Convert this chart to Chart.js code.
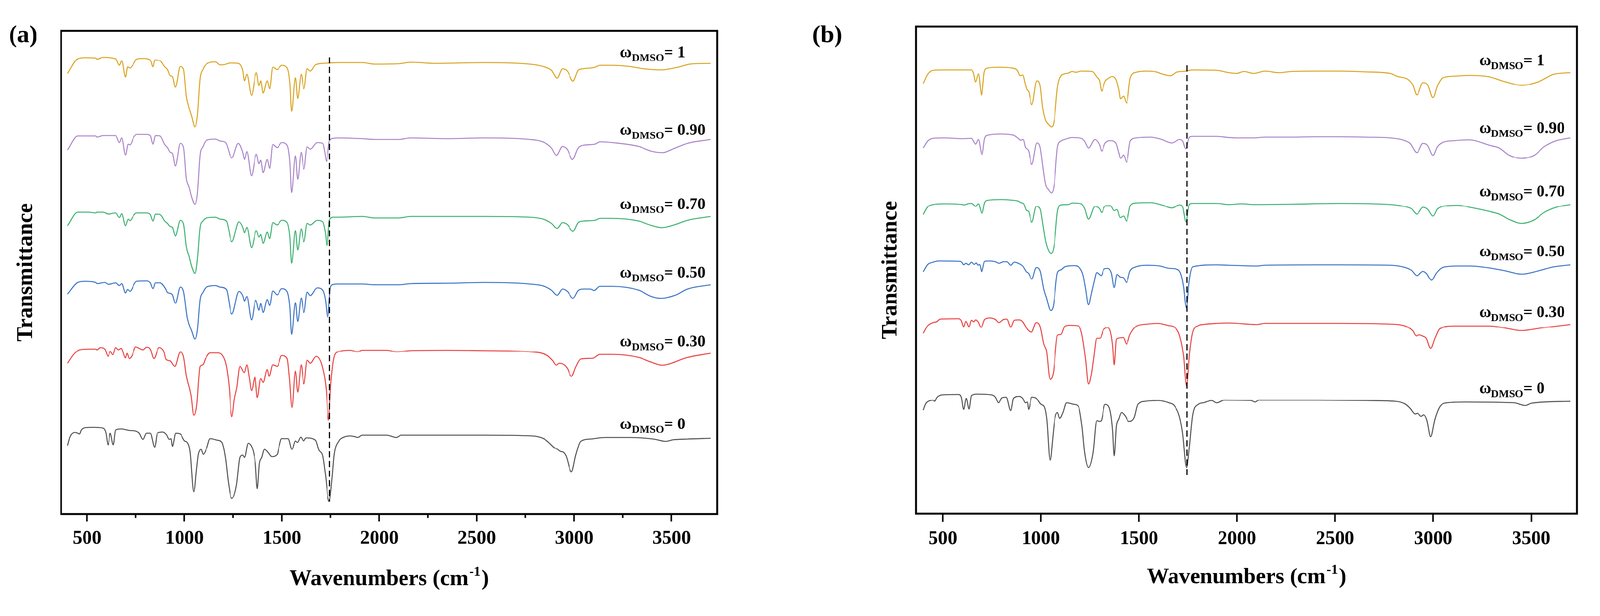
<!DOCTYPE html>
<html>
<head>
<meta charset="utf-8">
<script src="https://cdn.jsdelivr.net/npm/chart.js@4.4.1/dist/chart.umd.min.js"></script>
<style>
html, body { margin: 0; padding: 0; background: #fff; overflow: hidden; }
#wrap { position: relative; width: 4162px; height: 1577px; transform-origin: 0 0; }
canvas { position: absolute; top: 0; }
#chartA { left: 0; }
#chartB { left: 2080px; }
</style>
</head>
<body>
<div id="wrap">
<canvas id="chartA" width="2080" height="1577"></canvas>
<canvas id="chartB" width="2082" height="1577"></canvas>
</div>
<script>
// fit the 4162x1577 figure into whatever the viewport really is
var fit = Math.min(window.innerWidth / 4162, window.innerHeight / 1577);
document.getElementById('wrap').style.transform = 'scale(' + fit + ')';

// DMSO mass fractions, top trace first
var seriesNames = ['1', '0.90', '0.70', '0.50', '0.30', '0'];
var xTicks = [500, 1000, 1500, 2000, 2500, 3000, 3500]; // labelled ticks (cm-1)
var minorTicksA = [750, 1250, 1750, 2250, 2750, 3250]; // panel (a) only
var carbonylWn = 1745; // dashed marker, C=O band

// panel (a): [wavenumber, stacked transmittance (a.u.)]
var aW100 = [[400,1146],[452,1184],[489,1187],[545,1186],[551,1183],[582,1188],[647,1184],[666,1167],[678,1179],[697,1137],[708,1163],[720,1160],[739,1171],[754,1183],[787,1185],[824,1181],[838,1163],[847,1181],[875,1179],[899,1163],[913,1156],[927,1140],[938,1138],[953,1110],[978,1164],[996,1156],[1010,1087],[1020,1064],[1038,1033],[1054,1007],[1066,1037],[1080,1133],[1094,1156],[1113,1170],[1159,1176],[1183,1168],[1206,1169],[1234,1173],[1276,1172],[1299,1154],[1308,1127],[1320,1144],[1344,1089],[1369,1148],[1383,1114],[1392,1127],[1404,1095],[1425,1127],[1437,1106],[1453,1162],[1476,1156],[1499,1167],[1527,1160],[1541,1121],[1550,1047],[1569,1135],[1581,1081],[1599,1144],[1613,1106],[1630,1158],[1646,1152],[1672,1168],[1709,1172],[1744,1173],[1789,1174],[1913,1174],[1975,1170],[2100,1171],[2162,1175],[2287,1172],[2536,1174],[2772,1170],[2847,1163],[2884,1154],[2913,1134],[2940,1158],[2965,1152],[2994,1126],[3021,1154],[3046,1158],[3108,1162],[3133,1167],[3195,1167],[3283,1164],[3357,1158],[3444,1155],[3532,1162],[3594,1170],[3700,1172]];
var aW090 = [[400,947],[452,983],[508,983],[545,983],[551,980],[582,984],[647,984],[666,966],[678,978],[697,934],[711,962],[720,960],[740,980],[754,987],[806,987],[824,984],[838,962],[850,984],[875,983],[899,961],[913,953],[927,941],[938,938],[953,905],[978,964],[996,953],[1010,873],[1024,850],[1038,823],[1054,806],[1066,834],[1080,934],[1094,955],[1113,972],[1159,975],[1183,970],[1211,966],[1243,926],[1276,964],[1299,941],[1308,922],[1320,943],[1344,880],[1369,936],[1383,911],[1392,920],[1404,888],[1425,922],[1437,899],[1453,961],[1476,953],[1499,966],[1527,959],[1541,915],[1550,836],[1569,932],[1581,871],[1599,941],[1613,897],[1630,955],[1646,949],[1681,966],[1709,964],[1720,941],[1729,917],[1744,970],[1765,977],[1789,978],[1913,976],[1975,974],[2100,974],[2162,978],[2349,976],[2536,978],[2772,974],[2847,966],[2884,952],[2909,933],[2940,956],[2965,948],[2991,922],[3021,952],[3046,959],[3108,962],[3133,968],[3195,966],[3332,956],[3395,944],[3451,940],[3519,952],[3581,964],[3700,974]];
var aW070 = [[400,750],[452,785],[508,785],[545,783],[551,785],[582,785],[610,780],[647,783],[666,771],[678,781],[697,750],[711,767],[720,763],[740,777],[754,783],[806,783],[824,779],[838,762],[850,780],[875,779],[899,762],[913,756],[927,748],[938,746],[953,723],[978,764],[996,754],[1010,696],[1024,670],[1038,643],[1054,626],[1066,662],[1080,746],[1094,762],[1113,770],[1159,772],[1183,767],[1215,762],[1243,708],[1280,760],[1299,746],[1308,731],[1320,746],[1344,693],[1369,737],[1383,720],[1392,727],[1404,704],[1425,733],[1437,716],[1453,758],[1476,752],[1499,764],[1527,758],[1541,720],[1550,652],[1569,737],[1581,687],[1599,742],[1613,708],[1630,756],[1646,752],[1681,764],[1709,760],[1723,731],[1732,698],[1744,764],[1765,772],[1789,772],[1913,774],[1975,770],[2100,770],[2162,774],[2536,774],[2772,772],[2847,766],[2884,756],[2913,743],[2940,758],[2965,753],[2994,735],[3021,758],[3046,762],[3108,764],[3133,769],[3195,769],[3332,762],[3395,751],[3451,745],[3519,753],[3581,764],[3700,774]];
var aW050 = [[400,572],[452,602],[489,605],[545,602],[551,599],[591,602],[610,597],[647,601],[666,594],[678,599],[697,575],[708,584],[720,579],[731,586],[740,596],[754,605],[805,606],[824,601],[838,586],[850,601],[875,601],[903,586],[913,576],[927,574],[938,570],[953,548],[978,590],[996,578],[1015,510],[1038,475],[1054,455],[1066,479],[1080,558],[1094,576],[1113,590],[1159,594],[1183,590],[1215,584],[1243,520],[1280,579],[1299,568],[1308,554],[1320,566],[1344,505],[1366,556],[1383,530],[1392,548],[1404,524],[1425,558],[1437,542],[1453,580],[1476,570],[1499,586],[1527,578],[1541,538],[1550,467],[1569,550],[1581,501],[1599,562],[1613,524],[1630,577],[1646,568],[1681,588],[1709,582],[1723,558],[1735,512],[1750,590],[1765,597],[1789,598],[1913,598],[1975,596],[2100,596],[2162,599],[2349,600],[2536,602],[2772,598],[2847,592],[2884,582],[2913,569],[2940,585],[2965,579],[2994,561],[3021,581],[3046,585],[3083,585],[3102,581],[3133,592],[3195,592],[3332,582],[3395,566],[3444,561],[3519,569],[3581,585],[3700,596]];
var aW030 = [[400,392],[433,416],[461,427],[508,429],[545,429],[551,427],[568,433],[591,429],[608,410],[619,423],[633,414],[647,433],[661,427],[675,431],[697,406],[705,418],[717,404],[731,412],[750,435],[768,431],[787,427],[805,434],[824,429],[843,404],[870,433],[894,423],[906,402],[927,398],[950,384],[978,421],[996,408],[1010,360],[1034,309],[1048,257],[1062,281],[1080,384],[1094,388],[1108,404],[1132,419],[1169,419],[1192,414],[1215,384],[1229,332],[1243,253],[1257,301],[1269,329],[1285,384],[1307,368],[1320,388],[1332,356],[1344,321],[1362,356],[1374,303],[1392,352],[1404,342],[1425,376],[1434,358],[1453,388],[1476,384],[1499,412],[1527,404],[1539,352],[1552,277],[1569,372],[1581,317],[1599,388],[1613,338],[1630,400],[1646,392],[1676,410],[1709,380],[1728,321],[1739,244],[1751,336],[1765,400],[1789,422],[1851,426],[1889,422],[1913,426],[2038,426],[2087,422],[2162,425],[2349,426],[2536,425],[2772,422],[2859,413],[2890,399],[2909,387],[2922,392],[2946,389],[2965,379],[2986,358],[3009,383],[3034,403],[3096,405],[3133,415],[3195,415],[3332,407],[3395,395],[3451,387],[3581,407],[3700,418]];
var aW000 = [[400,178],[414,202],[438,212],[452,210],[461,208],[470,218],[489,224],[535,225],[582,223],[596,212],[608,180],[619,210],[635,180],[647,218],[675,221],[717,217],[745,216],[768,210],[787,194],[805,210],[824,210],[847,174],[861,210],[889,213],[908,206],[922,194],[931,196],[938,176],[955,210],[978,208],[1001,190],[1015,186],[1029,162],[1048,58],[1062,119],[1071,155],[1085,168],[1096,155],[1113,170],[1132,196],[1169,192],[1192,186],[1211,143],[1225,83],[1243,40],[1267,75],[1285,147],[1299,153],[1308,147],[1327,184],[1344,176],[1355,159],[1364,131],[1374,66],[1385,131],[1397,147],[1411,168],[1429,160],[1448,149],[1476,155],[1485,174],[1499,196],[1532,196],[1552,168],[1569,190],[1579,186],[1597,200],[1611,190],[1625,198],[1672,192],[1690,166],[1709,151],[1723,103],[1742,32],[1756,83],[1769,155],[1793,190],[1814,199],[1851,203],[1876,201],[1889,199],[1913,205],[2038,205],[2087,199],[2112,205],[2349,205],[2536,205],[2785,203],[2847,195],[2872,185],[2897,173],[2915,168],[2928,163],[2946,160],[2959,150],[2986,110],[3009,154],[3034,189],[3083,195],[3158,199],[3283,199],[3407,195],[3469,189],[3507,193],[3581,195],[3700,197]];

// panel (b)
var bW100 = [[400,1119],[423,1143],[451,1153],[507,1154],[646,1154],[656,1146],[667,1123],[681,1144],[698,1088],[712,1149],[730,1159],[786,1161],[852,1159],[880,1153],[894,1139],[907,1141],[921,1116],[931,1101],[937,1099],[954,1064],[980,1126],[996,1113],[1010,1053],[1024,1023],[1038,1013],[1054,1006],[1068,1023],[1085,1109],[1103,1139],[1122,1144],[1141,1146],[1159,1150],[1178,1148],[1206,1151],[1262,1150],[1285,1136],[1299,1126],[1310,1099],[1327,1124],[1341,1131],[1364,1137],[1383,1129],[1397,1103],[1406,1079],[1422,1086],[1437,1068],[1456,1133],[1486,1148],[1541,1151],[1588,1149],[1616,1144],[1661,1139],[1691,1148],[1742,1151],[1770,1154],[1896,1153],[1959,1147],[1997,1145],[2035,1150],[2086,1145],[2143,1151],[2212,1147],[2276,1150],[2402,1151],[2528,1151],[2655,1149],[2781,1145],[2819,1137],[2870,1130],[2895,1116],[2917,1089],[2948,1121],[2971,1116],[2999,1082],[3021,1112],[3047,1133],[3110,1138],[3186,1140],[3287,1136],[3363,1124],[3451,1114],[3540,1124],[3616,1143],[3700,1147]];
var bW090 = [[400,951],[423,969],[451,976],[507,977],[600,975],[646,976],[656,969],[667,961],[681,973],[700,934],[714,976],[730,984],[796,987],[861,984],[884,976],[898,971],[910,973],[921,953],[937,944],[954,908],[980,964],[996,953],[1010,903],[1024,856],[1038,843],[1054,834],[1068,856],[1085,953],[1103,969],[1122,973],[1159,978],[1206,976],[1224,968],[1243,951],[1276,973],[1299,959],[1310,943],[1327,963],[1355,970],[1383,963],[1397,939],[1406,924],[1422,933],[1437,914],[1456,969],[1486,977],[1560,979],[1616,973],[1667,964],[1709,973],[1723,969],[1739,949],[1756,978],[1770,981],[1896,981],[1959,978],[1997,977],[2086,977],[2143,979],[2276,979],[2402,980],[2528,980],[2655,979],[2781,977],[2844,972],[2882,963],[2917,939],[2948,963],[2971,958],[2999,932],[3021,954],[3047,965],[3110,970],[3186,972],[3287,958],[3337,951],[3388,932],[3451,924],[3515,932],[3565,954],[3628,970],[3700,977]];
var bW070 = [[400,778],[423,798],[451,804],[507,806],[600,804],[609,803],[637,807],[651,806],[667,799],[681,806],[700,781],[714,809],[730,815],[796,817],[861,815],[884,813],[898,809],[912,806],[926,789],[937,786],[954,758],[977,799],[996,793],[1010,753],[1024,709],[1038,686],[1052,677],[1068,699],[1085,786],[1103,803],[1140,804],[1159,808],[1206,806],[1224,793],[1243,766],[1276,799],[1299,793],[1310,783],[1327,800],[1355,801],[1374,788],[1388,791],[1404,770],[1422,774],[1437,761],[1456,801],[1486,808],[1560,809],[1616,803],[1667,795],[1709,803],[1723,798],[1740,759],[1756,804],[1770,807],[1896,807],[1959,804],[2023,806],[2086,804],[2276,805],[2528,807],[2781,804],[2844,800],[2889,793],[2917,779],[2948,797],[2971,792],[2999,774],[3021,792],[3047,799],[3123,802],[3186,797],[3287,786],[3337,779],[3388,765],[3451,755],[3515,764],[3565,783],[3628,797],[3700,804]];
var bW050 = [[400,629],[423,648],[451,654],[479,657],[590,656],[600,652],[607,647],[618,651],[632,647],[646,654],[660,648],[670,652],[679,646],[688,648],[698,629],[714,656],[740,657],[768,655],[786,651],[809,655],[828,655],[847,646],[865,654],[889,650],[907,644],[926,629],[937,625],[954,610],[977,640],[996,632],[1015,583],[1029,560],[1050,528],[1064,541],[1085,627],[1103,634],[1122,642],[1168,645],[1196,640],[1215,621],[1229,583],[1243,543],[1257,571],[1271,602],[1285,627],[1308,619],[1322,636],[1341,638],[1360,625],[1374,588],[1388,622],[1406,615],[1420,614],[1437,601],[1453,629],[1486,642],[1541,646],[1607,644],[1653,638],[1691,636],[1714,623],[1728,590],[1742,535],[1756,606],[1774,642],[1896,647],[1959,646],[2099,644],[2143,646],[2402,647],[2528,647],[2781,646],[2844,642],[2889,633],[2917,619],[2948,630],[2965,625],[2992,607],[3015,625],[3047,640],[3123,644],[3186,644],[3287,639],[3363,632],[3451,623],[3540,632],[3616,642],[3700,647]];
var bW030 = [[400,469],[423,489],[451,497],[469,499],[488,506],[581,507],[595,502],[607,486],[618,500],[634,486],[646,503],[658,499],[667,504],[679,499],[696,484],[714,505],[740,509],[768,505],[786,497],[809,505],[828,506],[847,485],[865,503],[889,504],[907,499],[926,483],[937,476],[952,472],[977,497],[996,487],[1015,441],[1029,422],[1047,349],[1064,368],[1085,464],[1103,466],[1122,487],[1150,490],[1192,488],[1210,464],[1229,399],[1243,337],[1257,361],[1269,403],[1285,456],[1302,456],[1318,477],[1341,484],[1355,472],[1366,437],[1374,387],[1385,453],[1402,457],[1420,458],[1437,441],[1453,464],[1486,487],[1541,493],[1597,495],[1653,489],[1681,485],[1709,460],[1728,410],[1743,332],[1758,418],[1774,472],[1802,489],[1829,492],[1896,495],[1959,496],[2099,492],[2143,495],[2402,495],[2528,495],[2781,493],[2857,488],[2895,476],[2914,462],[2927,465],[2946,462],[2965,456],[2987,430],[3009,456],[3034,481],[3110,488],[3287,488],[3363,483],[3451,476],[3540,482],[3700,492]];
var bW000 = [[400,269],[413,286],[437,294],[451,295],[460,292],[469,301],[497,309],[581,310],[595,303],[607,271],[620,300],[634,272],[646,307],[674,311],[749,309],[768,303],[784,288],[800,301],[824,303],[847,268],[861,300],[889,305],[907,300],[921,288],[931,290],[937,271],[954,303],[977,300],[1001,284],[1017,278],[1030,246],[1047,139],[1061,200],[1071,246],[1085,263],[1096,248],[1113,263],[1131,288],[1168,284],[1192,278],[1210,227],[1224,158],[1243,120],[1266,158],[1285,242],[1299,240],[1308,242],[1327,284],[1344,280],[1357,257],[1366,215],[1374,150],[1385,227],[1397,246],[1411,263],[1430,254],[1448,240],[1476,250],[1495,284],[1532,292],[1597,294],[1653,288],[1681,280],[1709,248],[1723,208],[1743,120],[1756,169],[1774,257],[1802,284],[1829,288],[1871,294],[1896,288],[1934,295],[2073,294],[2092,290],[2111,295],[2402,295],[2655,294],[2807,292],[2857,285],[2882,274],[2908,259],[2920,261],[2939,253],[2952,257],[2968,243],[2987,200],[3009,246],[3034,278],[3072,288],[3161,290],[3413,288],[3470,281],[3502,287],[3700,292]];

var colors = ['#d9a21f', '#a983c9', '#3bb06f', '#3a72c4', '#e8413f', '#505050'];
var serif = '"Liberation Serif", "Times New Roman", serif';

// layout of each panel (canvas pixels)
var panelStyle = {
  chartA: { left: 159, right: 214, top: 80, axisH: 240, yMax: 1257, min: 367, max: 3735, letter: '(a)', letterX: 23,
            yTitleX: 83, xTitleY: 1522, labelWn: 3235, labelT: [1188, 986, 793, 615, 436, 221], dashT: [1188, 32], minor: minorTicksA, tickLen: 20 },
  chartB: { left: 303, right: 60, top: 69, axisH: 241, yMax: 1267, min: 364, max: 3733, letter: '(b)', letterX: 33,
            yTitleX: 252, xTitleY: 1517, labelWn: 3235, labelT: [1166, 990, 825, 669, 511, 313], dashT: [1166, 91], minor: [], tickLen: 22 }
};

var paperPlugin = {
  id: 'paper',
  afterDraw: function(chart) {
    var p = panelStyle[chart.canvas.id];
    var ctx = chart.ctx, area = chart.chartArea;
    var xs = chart.scales.x, ys = chart.scales.y;
    ctx.save();
    ctx.fillStyle = '#000';
    ctx.strokeStyle = '#000';
    // frame
    ctx.lineWidth = 5;
    ctx.strokeRect(area.left, area.top, area.right - area.left, area.bottom - area.top);
    // minor ticks
    ctx.lineWidth = 4;
    p.minor.forEach(function(v) {
      var x = xs.getPixelForValue(v);
      ctx.beginPath(); ctx.moveTo(x, area.bottom); ctx.lineTo(x, area.bottom + 10); ctx.stroke();
    });
    // series labels
    ctx.textAlign = 'left';
    ctx.textBaseline = 'alphabetic';
    seriesNames.forEach(function(name, i) {
      var x = xs.getPixelForValue(p.labelWn), y = ys.getPixelForValue(p.labelT[i]);
      ctx.font = 'bold 42px ' + serif;
      ctx.fillText('\u03c9', x, y); x += ctx.measureText('\u03c9').width;
      ctx.font = 'bold 28px ' + serif;
      ctx.fillText('DMSO', x, y + 10); x += ctx.measureText('DMSO').width;
      ctx.font = 'bold 42px ' + serif;
      ctx.fillText('= ' + name, x, y);
    });
    // panel letter
    ctx.font = 'bold 64px ' + serif;
    ctx.fillText(p.letter, p.letterX, 110);
    // x title with superscript
    var cx = (area.left + area.right) / 2;
    ctx.font = 'bold 58px ' + serif;
    var w1 = ctx.measureText('Wavenumbers (cm').width, w3 = ctx.measureText(')').width;
    ctx.font = 'bold 36px ' + serif;
    var w2 = ctx.measureText('-1').width + 4;
    var x0 = cx - (w1 + w2 + w3) / 2;
    ctx.font = 'bold 58px ' + serif;
    ctx.fillText('Wavenumbers (cm', x0, p.xTitleY);
    ctx.fillText(')', x0 + w1 + w2, p.xTitleY);
    ctx.font = 'bold 36px ' + serif;
    ctx.fillText('-1', x0 + w1 + 2, p.xTitleY - 24);
    // y title
    ctx.translate(p.yTitleX, (area.top + area.bottom) / 2);
    ctx.rotate(-Math.PI / 2);
    ctx.textAlign = 'center';
    ctx.font = 'bold 58px ' + serif;
    ctx.fillText('Transmittance', 0, 0);
    ctx.restore();
  }
};

function makePanel(canvasId, series) {
  var p = panelStyle[canvasId];
  var datasets = [{ // dashed marker line
    data: [{ x: carbonylWn, y: p.dashT[0] }, { x: carbonylWn, y: p.dashT[1] }],
    borderColor: '#000', borderWidth: 3, borderDash: [16, 9], pointRadius: 0
  }];
  series.forEach(function(s, i) {
    datasets.push({
      label: '\u03c9DMSO = ' + seriesNames[i],
      data: s.map(function(pt) { return { x: pt[0], y: pt[1] }; }),
      borderColor: colors[i], borderWidth: 2.6, pointRadius: 0,
      cubicInterpolationMode: 'monotone'
    });
  });
  return new Chart(document.getElementById(canvasId), {
    type: 'line',
    data: { datasets: datasets },
    options: {
      responsive: false, animation: false, devicePixelRatio: 1,
      layout: { padding: { left: p.left, right: p.right, top: p.top, bottom: 0 } },
      plugins: { legend: { display: false }, tooltip: { enabled: false } },
      scales: {
        x: {
          type: 'linear', min: p.min, max: p.max, bounds: 'data',
          grid: { display: true, drawOnChartArea: false, drawTicks: true, tickLength: p.tickLen, tickWidth: 4, tickColor: '#000' },
          border: { display: false },
          ticks: {
            autoSkip: false, maxRotation: 0, padding: 14, color: '#000',
            font: { family: serif, size: 50, weight: 'bold' },
            callback: function(v) { return String(v); }
          },
          afterBuildTicks: function(scale) { scale.ticks = xTicks.map(function(v) { return { value: v }; }); },
          afterFit: function(scale) { scale.height = p.axisH; }
        },
        y: { display: false, min: 0, max: p.yMax }
      }
    },
    plugins: [paperPlugin]
  });
}

makePanel('chartA', [aW100, aW090, aW070, aW050, aW030, aW000]);
makePanel('chartB', [bW100, bW090, bW070, bW050, bW030, bW000]);
</script>
</body>
</html>
